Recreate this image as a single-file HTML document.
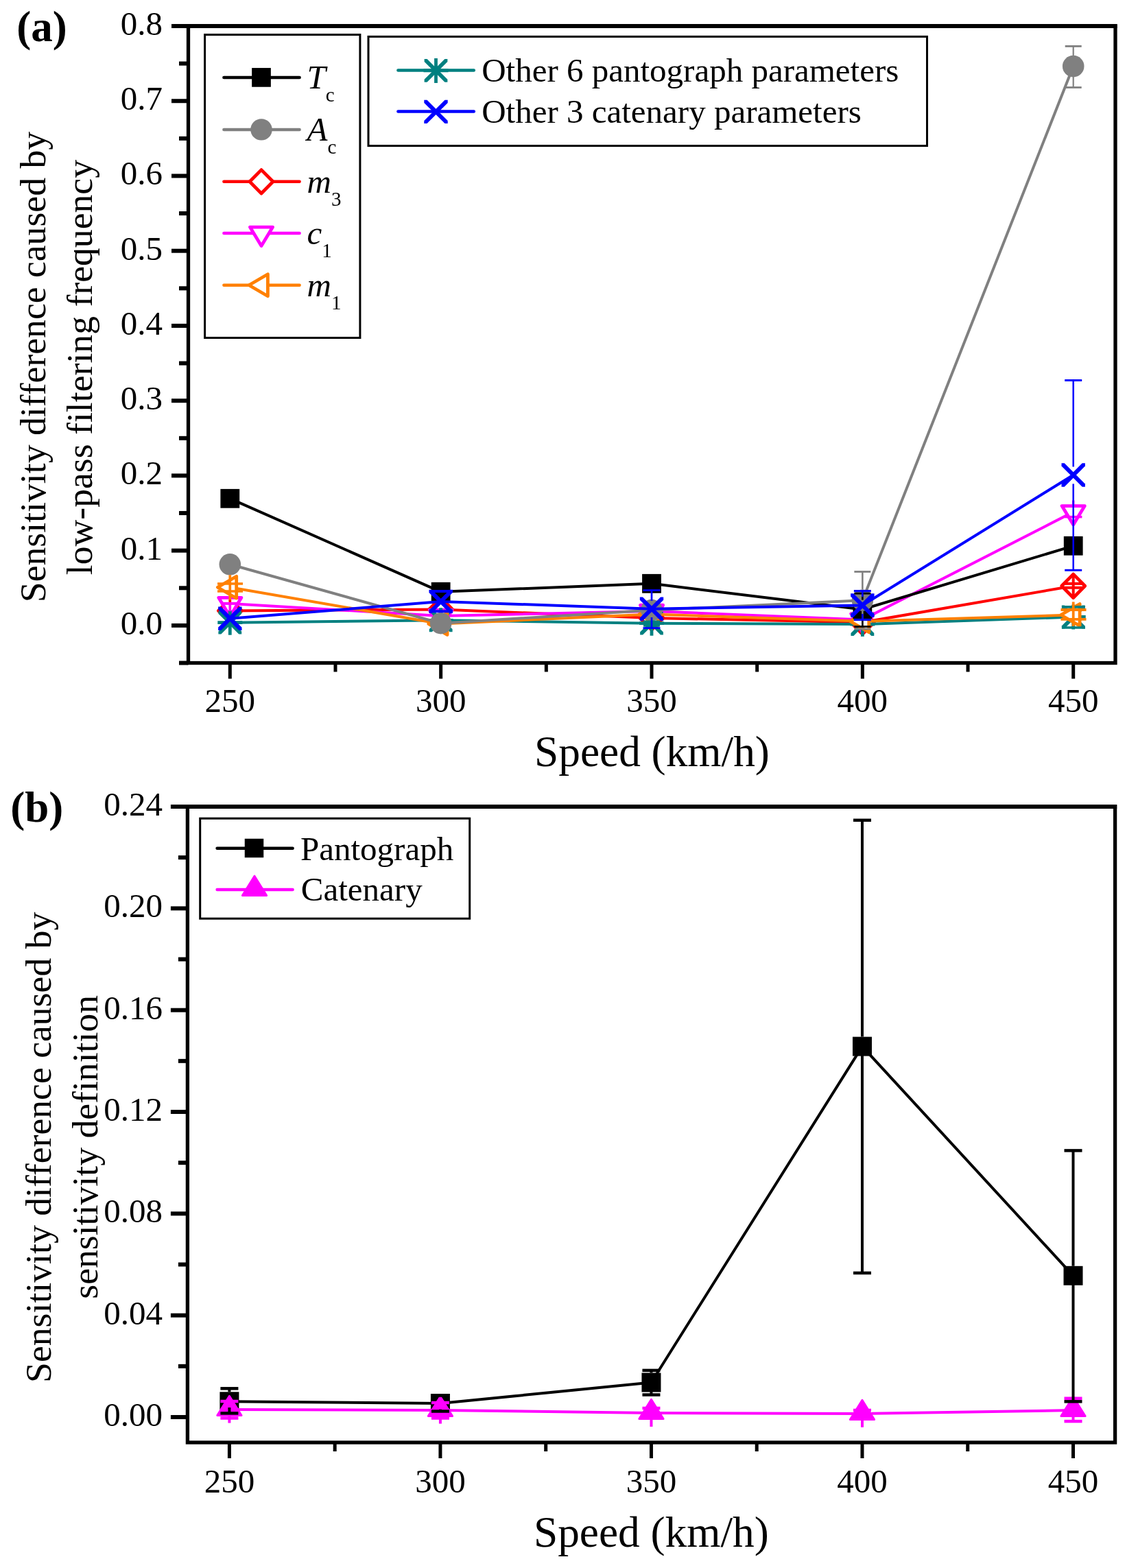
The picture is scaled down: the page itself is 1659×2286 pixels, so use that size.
<!DOCTYPE html>
<html><head><meta charset="utf-8"><title>Sensitivity difference figure</title>
<style>html,body{margin:0;padding:0;background:#fff;overflow:hidden;width:1659px;height:2286px;}svg{display:block;}</style></head>
<body>
<svg width="1659" height="2286" viewBox="0 0 1659 2286" font-family='"Liberation Serif", "Times New Roman", serif'>
<rect x="0" y="0" width="1659" height="2286" fill="#fff"/>
<rect x="274.5" y="38" width="1351.5" height="928.5" fill="none" stroke="#000" stroke-width="5.3"/>
<line x1="271.9" y1="38" x2="1628.6" y2="38" stroke="#000" stroke-width="6" stroke-linecap="butt"/>
<line x1="250" y1="911.9" x2="274.5" y2="911.9" stroke="#000" stroke-width="6" stroke-linecap="butt"/>
<line x1="250" y1="802.66" x2="274.5" y2="802.66" stroke="#000" stroke-width="6" stroke-linecap="butt"/>
<line x1="250" y1="693.42" x2="274.5" y2="693.42" stroke="#000" stroke-width="6" stroke-linecap="butt"/>
<line x1="250" y1="584.18" x2="274.5" y2="584.18" stroke="#000" stroke-width="6" stroke-linecap="butt"/>
<line x1="250" y1="474.94" x2="274.5" y2="474.94" stroke="#000" stroke-width="6" stroke-linecap="butt"/>
<line x1="250" y1="365.7" x2="274.5" y2="365.7" stroke="#000" stroke-width="6" stroke-linecap="butt"/>
<line x1="250" y1="256.46" x2="274.5" y2="256.46" stroke="#000" stroke-width="6" stroke-linecap="butt"/>
<line x1="250" y1="147.22" x2="274.5" y2="147.22" stroke="#000" stroke-width="6" stroke-linecap="butt"/>
<line x1="250" y1="37.98" x2="274.5" y2="37.98" stroke="#000" stroke-width="6" stroke-linecap="butt"/>
<line x1="261" y1="966.52" x2="274.5" y2="966.52" stroke="#000" stroke-width="6" stroke-linecap="butt"/>
<line x1="261" y1="857.28" x2="274.5" y2="857.28" stroke="#000" stroke-width="6" stroke-linecap="butt"/>
<line x1="261" y1="748.04" x2="274.5" y2="748.04" stroke="#000" stroke-width="6" stroke-linecap="butt"/>
<line x1="261" y1="638.8" x2="274.5" y2="638.8" stroke="#000" stroke-width="6" stroke-linecap="butt"/>
<line x1="261" y1="529.56" x2="274.5" y2="529.56" stroke="#000" stroke-width="6" stroke-linecap="butt"/>
<line x1="261" y1="420.32" x2="274.5" y2="420.32" stroke="#000" stroke-width="6" stroke-linecap="butt"/>
<line x1="261" y1="311.08" x2="274.5" y2="311.08" stroke="#000" stroke-width="6" stroke-linecap="butt"/>
<line x1="261" y1="201.84" x2="274.5" y2="201.84" stroke="#000" stroke-width="6" stroke-linecap="butt"/>
<line x1="261" y1="92.6" x2="274.5" y2="92.6" stroke="#000" stroke-width="6" stroke-linecap="butt"/>
<line x1="335.3" y1="966.5" x2="335.3" y2="989.5" stroke="#000" stroke-width="5" stroke-linecap="butt"/>
<line x1="642.65" y1="966.5" x2="642.65" y2="989.5" stroke="#000" stroke-width="5" stroke-linecap="butt"/>
<line x1="950" y1="966.5" x2="950" y2="989.5" stroke="#000" stroke-width="5" stroke-linecap="butt"/>
<line x1="1257.35" y1="966.5" x2="1257.35" y2="989.5" stroke="#000" stroke-width="5" stroke-linecap="butt"/>
<line x1="1564.7" y1="966.5" x2="1564.7" y2="989.5" stroke="#000" stroke-width="5" stroke-linecap="butt"/>
<line x1="488.98" y1="966.5" x2="488.98" y2="979.5" stroke="#000" stroke-width="5" stroke-linecap="butt"/>
<line x1="796.33" y1="966.5" x2="796.33" y2="979.5" stroke="#000" stroke-width="5" stroke-linecap="butt"/>
<line x1="1103.67" y1="966.5" x2="1103.67" y2="979.5" stroke="#000" stroke-width="5" stroke-linecap="butt"/>
<line x1="1411.03" y1="966.5" x2="1411.03" y2="979.5" stroke="#000" stroke-width="5" stroke-linecap="butt"/>
<text x="237" y="924.9" font-size="49" text-anchor="end" font-weight="normal" font-style="normal">0.0</text>
<text x="237" y="815.66" font-size="49" text-anchor="end" font-weight="normal" font-style="normal">0.1</text>
<text x="237" y="706.42" font-size="49" text-anchor="end" font-weight="normal" font-style="normal">0.2</text>
<text x="237" y="597.18" font-size="49" text-anchor="end" font-weight="normal" font-style="normal">0.3</text>
<text x="237" y="487.94" font-size="49" text-anchor="end" font-weight="normal" font-style="normal">0.4</text>
<text x="237" y="378.7" font-size="49" text-anchor="end" font-weight="normal" font-style="normal">0.5</text>
<text x="237" y="269.46" font-size="49" text-anchor="end" font-weight="normal" font-style="normal">0.6</text>
<text x="237" y="160.22" font-size="49" text-anchor="end" font-weight="normal" font-style="normal">0.7</text>
<text x="237" y="50.98" font-size="49" text-anchor="end" font-weight="normal" font-style="normal">0.8</text>
<text x="335.3" y="1037.6" font-size="49" text-anchor="middle" font-weight="normal" font-style="normal">250</text>
<text x="642.65" y="1037.6" font-size="49" text-anchor="middle" font-weight="normal" font-style="normal">300</text>
<text x="950" y="1037.6" font-size="49" text-anchor="middle" font-weight="normal" font-style="normal">350</text>
<text x="1257.35" y="1037.6" font-size="49" text-anchor="middle" font-weight="normal" font-style="normal">400</text>
<text x="1564.7" y="1037.6" font-size="49" text-anchor="middle" font-weight="normal" font-style="normal">450</text>
<polyline points="335.3,890.4 642.65,888.5 950,901 1257.35,907.3 1564.7,854.3" fill="none" stroke="#ff0000" stroke-width="4" stroke-linejoin="round"/>
<polygon points="335.3,873.2 352.3,890.4 335.3,907.6 318.3,890.4" fill="#fff" stroke="#ff0000" stroke-width="4.8" stroke-linejoin="round"/>
<polygon points="642.65,871.3 659.65,888.5 642.65,905.7 625.65,888.5" fill="#fff" stroke="#ff0000" stroke-width="4.8" stroke-linejoin="round"/>
<polygon points="950,883.8 967,901 950,918.2 933,901" fill="#fff" stroke="#ff0000" stroke-width="4.8" stroke-linejoin="round"/>
<polygon points="1257.35,890.1 1274.35,907.3 1257.35,924.5 1240.35,907.3" fill="#fff" stroke="#ff0000" stroke-width="4.8" stroke-linejoin="round"/>
<polygon points="1564.7,837.1 1581.7,854.3 1564.7,871.5 1547.7,854.3" fill="#fff" stroke="#ff0000" stroke-width="4.8" stroke-linejoin="round"/>
<polyline points="335.3,880.1 642.65,897.9 950,891 1257.35,903.5 1564.7,746.4" fill="none" stroke="#ff00ff" stroke-width="4" stroke-linejoin="round"/>
<polygon points="318.7,871.3 351.9,871.3 335.3,898.7" fill="#fff" stroke="#ff00ff" stroke-width="4.8" stroke-linejoin="round"/>
<polygon points="626.05,889.1 659.25,889.1 642.65,916.5" fill="#fff" stroke="#ff00ff" stroke-width="4.8" stroke-linejoin="round"/>
<polygon points="933.4,882.2 966.6,882.2 950,909.6" fill="#fff" stroke="#ff00ff" stroke-width="4.8" stroke-linejoin="round"/>
<polygon points="1240.75,894.7 1273.95,894.7 1257.35,922.1" fill="#fff" stroke="#ff00ff" stroke-width="4.8" stroke-linejoin="round"/>
<polygon points="1548.1,737.6 1581.3,737.6 1564.7,765" fill="#fff" stroke="#ff00ff" stroke-width="4.8" stroke-linejoin="round"/>
<polyline points="335.3,907.7 642.65,904.3 950,908.7 1257.35,910.1 1564.7,899.5" fill="none" stroke="#008080" stroke-width="4" stroke-linejoin="round"/>
<polygon points="318.4,890.8 322.4,890.8 352.2,920.6 352.2,924.6 348.2,924.6 318.4,894.8" fill="#008080"/>
<polygon points="352.2,890.8 348.2,890.8 318.4,920.6 318.4,924.6 322.4,924.6 352.2,894.8" fill="#008080"/>
<path d="M335.3,889.7L335.3,925.7M317.3,907.7L353.3,907.7" stroke="#008080" stroke-width="4.8" fill="none"/>
<polygon points="625.75,887.4 629.75,887.4 659.55,917.2 659.55,921.2 655.55,921.2 625.75,891.4" fill="#008080"/>
<polygon points="659.55,887.4 655.55,887.4 625.75,917.2 625.75,921.2 629.75,921.2 659.55,891.4" fill="#008080"/>
<path d="M642.65,886.3L642.65,922.3M624.65,904.3L660.65,904.3" stroke="#008080" stroke-width="4.8" fill="none"/>
<polygon points="933.1,891.8 937.1,891.8 966.9,921.6 966.9,925.6 962.9,925.6 933.1,895.8" fill="#008080"/>
<polygon points="966.9,891.8 962.9,891.8 933.1,921.6 933.1,925.6 937.1,925.6 966.9,895.8" fill="#008080"/>
<path d="M950,890.7L950,926.7M932,908.7L968,908.7" stroke="#008080" stroke-width="4.8" fill="none"/>
<polygon points="1240.45,893.2 1244.45,893.2 1274.25,923 1274.25,927 1270.25,927 1240.45,897.2" fill="#008080"/>
<polygon points="1274.25,893.2 1270.25,893.2 1240.45,923 1240.45,927 1244.45,927 1274.25,897.2" fill="#008080"/>
<path d="M1257.35,892.1L1257.35,928.1M1239.35,910.1L1275.35,910.1" stroke="#008080" stroke-width="4.8" fill="none"/>
<polygon points="1547.8,882.6 1551.8,882.6 1581.6,912.4 1581.6,916.4 1577.6,916.4 1547.8,886.6" fill="#008080"/>
<polygon points="1581.6,882.6 1577.6,882.6 1547.8,912.4 1547.8,916.4 1551.8,916.4 1581.6,886.6" fill="#008080"/>
<path d="M1564.7,881.5L1564.7,917.5M1546.7,899.5L1582.7,899.5" stroke="#008080" stroke-width="4.8" fill="none"/>
<polyline points="335.3,856.2 642.65,909.5 950,895.6 1257.35,905.8 1564.7,896.5" fill="none" stroke="#ff8000" stroke-width="4" stroke-linejoin="round"/>
<polygon points="344.7,840.2 344.7,872.2 317.3,856.2" fill="#fff" stroke="#ff8000" stroke-width="4.8" stroke-linejoin="round"/>
<polygon points="652.05,893.5 652.05,925.5 624.65,909.5" fill="#fff" stroke="#ff8000" stroke-width="4.8" stroke-linejoin="round"/>
<polygon points="959.4,879.6 959.4,911.6 932,895.6" fill="#fff" stroke="#ff8000" stroke-width="4.8" stroke-linejoin="round"/>
<polygon points="1266.75,889.8 1266.75,921.8 1239.35,905.8" fill="#fff" stroke="#ff8000" stroke-width="4.8" stroke-linejoin="round"/>
<polygon points="1574.1,880.5 1574.1,912.5 1546.7,896.5" fill="#fff" stroke="#ff8000" stroke-width="4.8" stroke-linejoin="round"/>
<polyline points="335.3,726.8 642.65,862.8 950,850.8 1257.35,888.5 1564.7,795.8" fill="none" stroke="#000000" stroke-width="4" stroke-linejoin="round"/>
<rect x="321.4" y="712.9" width="27.8" height="27.8" fill="#000" stroke="none" stroke-width="0"/>
<rect x="628.75" y="848.9" width="27.8" height="27.8" fill="#000" stroke="none" stroke-width="0"/>
<rect x="936.1" y="836.9" width="27.8" height="27.8" fill="#000" stroke="none" stroke-width="0"/>
<rect x="1243.45" y="874.6" width="27.8" height="27.8" fill="#000" stroke="none" stroke-width="0"/>
<rect x="1550.8" y="781.9" width="27.8" height="27.8" fill="#000" stroke="none" stroke-width="0"/>
<polyline points="335.3,822.8 642.65,908.7 950,889.5 1257.35,875.2 1564.7,96.6" fill="none" stroke="#808080" stroke-width="4" stroke-linejoin="round"/>
<circle cx="335.3" cy="822.8" r="15.8" fill="#808080"/>
<circle cx="642.65" cy="908.7" r="15.8" fill="#808080"/>
<circle cx="950" cy="889.5" r="15.8" fill="#808080"/>
<circle cx="1257.35" cy="875.2" r="15.8" fill="#808080"/>
<circle cx="1564.7" cy="96.6" r="15.8" fill="#808080"/>
<polyline points="335.3,901.8 642.65,876.9 950,887.7 1257.35,882.5 1564.7,692.5" fill="none" stroke="#0000ff" stroke-width="4" stroke-linejoin="round"/>
<polygon points="318.1,884.6 322.3,884.6 352.5,914.8 352.5,919 348.3,919 318.1,888.8" fill="#0000ff"/>
<polygon points="352.5,884.6 348.3,884.6 318.1,914.8 318.1,919 322.3,919 352.5,888.8" fill="#0000ff"/>
<polygon points="625.45,859.7 629.65,859.7 659.85,889.9 659.85,894.1 655.65,894.1 625.45,863.9" fill="#0000ff"/>
<polygon points="659.85,859.7 655.65,859.7 625.45,889.9 625.45,894.1 629.65,894.1 659.85,863.9" fill="#0000ff"/>
<polygon points="932.8,870.5 937,870.5 967.2,900.7 967.2,904.9 963,904.9 932.8,874.7" fill="#0000ff"/>
<polygon points="967.2,870.5 963,870.5 932.8,900.7 932.8,904.9 937,904.9 967.2,874.7" fill="#0000ff"/>
<polygon points="1240.15,865.3 1244.35,865.3 1274.55,895.5 1274.55,899.7 1270.35,899.7 1240.15,869.5" fill="#0000ff"/>
<polygon points="1274.55,865.3 1270.35,865.3 1240.15,895.5 1240.15,899.7 1244.35,899.7 1274.55,869.5" fill="#0000ff"/>
<polygon points="1547.5,675.3 1551.7,675.3 1581.9,705.5 1581.9,709.7 1577.7,709.7 1547.5,679.5" fill="#0000ff"/>
<polygon points="1581.9,675.3 1577.7,675.3 1547.5,705.5 1547.5,709.7 1551.7,709.7 1581.9,679.5" fill="#0000ff"/>
<line x1="335.3" y1="838.2" x2="335.3" y2="876" stroke="#ff8000" stroke-width="3.7" stroke-linecap="butt"/>
<line x1="317" y1="851" x2="354" y2="851" stroke="#ff8000" stroke-width="3.7" stroke-linecap="butt"/>
<line x1="317" y1="862" x2="354" y2="862" stroke="#ff8000" stroke-width="3.7" stroke-linecap="butt"/>
<line x1="335.3" y1="874.5" x2="335.3" y2="878" stroke="#ff0000" stroke-width="3.7" stroke-linecap="butt"/>
<line x1="322" y1="879.9" x2="348" y2="879.9" stroke="#ff00ff" stroke-width="4" stroke-linecap="butt"/>
<line x1="335.3" y1="880" x2="335.3" y2="891.3" stroke="#ff00ff" stroke-width="3.7" stroke-linecap="butt"/>
<line x1="626.5" y1="862" x2="659.5" y2="862" stroke="#0000ff" stroke-width="4" stroke-linecap="butt"/>
<line x1="626.5" y1="891.3" x2="659.5" y2="891.3" stroke="#0000ff" stroke-width="4" stroke-linecap="butt"/>
<rect x="938" y="904.5" width="24" height="9.2" fill="#008080" stroke="none" stroke-width="0"/>
<line x1="950" y1="860.6" x2="950" y2="876" stroke="#0000ff" stroke-width="2.7" stroke-linecap="butt"/>
<line x1="950" y1="900" x2="950" y2="915.6" stroke="#0000ff" stroke-width="2.7" stroke-linecap="butt"/>
<line x1="937.5" y1="860.6" x2="962.5" y2="860.6" stroke="#0000ff" stroke-width="2.8" stroke-linecap="butt"/>
<line x1="937.5" y1="915.6" x2="962.5" y2="915.6" stroke="#0000ff" stroke-width="2.8" stroke-linecap="butt"/>
<line x1="1257.35" y1="833.5" x2="1257.35" y2="859.6" stroke="#808080" stroke-width="2.6" stroke-linecap="butt"/>
<line x1="1257.35" y1="890.8" x2="1257.35" y2="917" stroke="#808080" stroke-width="2.6" stroke-linecap="butt"/>
<line x1="1245.35" y1="833.5" x2="1269.35" y2="833.5" stroke="#808080" stroke-width="2.8" stroke-linecap="butt"/>
<line x1="1245.35" y1="917" x2="1269.35" y2="917" stroke="#808080" stroke-width="2.8" stroke-linecap="butt"/>
<line x1="1257.35" y1="865.2" x2="1257.35" y2="874.6" stroke="#000000" stroke-width="2.6" stroke-linecap="butt"/>
<line x1="1257.35" y1="902.4" x2="1257.35" y2="913.5" stroke="#000000" stroke-width="2.6" stroke-linecap="butt"/>
<line x1="1245.35" y1="865.2" x2="1269.35" y2="865.2" stroke="#000000" stroke-width="2.8" stroke-linecap="butt"/>
<line x1="1245.35" y1="913.5" x2="1269.35" y2="913.5" stroke="#000000" stroke-width="2.8" stroke-linecap="butt"/>
<line x1="1257.35" y1="861.6" x2="1257.35" y2="870" stroke="#0000ff" stroke-width="2.7" stroke-linecap="butt"/>
<line x1="1257.35" y1="895" x2="1257.35" y2="903.5" stroke="#0000ff" stroke-width="2.7" stroke-linecap="butt"/>
<line x1="1244.85" y1="861.6" x2="1269.85" y2="861.6" stroke="#0000ff" stroke-width="3.2" stroke-linecap="butt"/>
<line x1="1244.85" y1="903.5" x2="1269.85" y2="903.5" stroke="#0000ff" stroke-width="3.2" stroke-linecap="butt"/>
<line x1="1564.7" y1="67.4" x2="1564.7" y2="127.5" stroke="#808080" stroke-width="2.2" stroke-linecap="butt"/>
<line x1="1552.7" y1="67.4" x2="1576.7" y2="67.4" stroke="#808080" stroke-width="2.8" stroke-linecap="butt"/>
<line x1="1552.7" y1="127.5" x2="1576.7" y2="127.5" stroke="#808080" stroke-width="2.8" stroke-linecap="butt"/>
<line x1="1564.7" y1="729.5" x2="1564.7" y2="740" stroke="#ff00ff" stroke-width="3.5" stroke-linecap="butt"/>
<line x1="1552.4" y1="753.6" x2="1577.4" y2="753.6" stroke="#ff00ff" stroke-width="3.5" stroke-linecap="butt"/>
<line x1="1564.7" y1="838" x2="1564.7" y2="870" stroke="#ff0000" stroke-width="4" stroke-linecap="butt"/>
<line x1="1550" y1="850.9" x2="1580" y2="850.9" stroke="#ff0000" stroke-width="4" stroke-linecap="butt"/>
<line x1="1550" y1="856.8" x2="1580" y2="856.8" stroke="#ff0000" stroke-width="4" stroke-linecap="butt"/>
<line x1="1548" y1="884.8" x2="1582" y2="884.8" stroke="#008080" stroke-width="3.7" stroke-linecap="butt"/>
<line x1="1548" y1="915" x2="1582" y2="915" stroke="#008080" stroke-width="3.7" stroke-linecap="butt"/>
<line x1="1564.7" y1="877.5" x2="1564.7" y2="913" stroke="#ff8000" stroke-width="3.8" stroke-linecap="butt"/>
<line x1="1546.5" y1="889" x2="1583.5" y2="889" stroke="#ff8000" stroke-width="3.8" stroke-linecap="butt"/>
<line x1="1546.5" y1="902.8" x2="1583.5" y2="902.8" stroke="#ff8000" stroke-width="3.8" stroke-linecap="butt"/>
<line x1="1564.7" y1="554.5" x2="1564.7" y2="680.5" stroke="#0000ff" stroke-width="2.5" stroke-linecap="butt"/>
<line x1="1564.7" y1="705.4" x2="1564.7" y2="831.3" stroke="#0000ff" stroke-width="2.5" stroke-linecap="butt"/>
<line x1="1552.2" y1="554.5" x2="1577.2" y2="554.5" stroke="#0000ff" stroke-width="3" stroke-linecap="butt"/>
<line x1="1552.2" y1="831.3" x2="1577.2" y2="831.3" stroke="#0000ff" stroke-width="3" stroke-linecap="butt"/>
<rect x="298.6" y="50.6" width="226.3" height="441.9" fill="#fff" stroke="#000" stroke-width="3"/>
<line x1="326.4" y1="112.9" x2="436.6" y2="112.9" stroke="#000000" stroke-width="4.5" stroke-linecap="round"/>
<line x1="326.4" y1="188.9" x2="436.6" y2="188.9" stroke="#808080" stroke-width="4.5" stroke-linecap="round"/>
<line x1="326.4" y1="264.8" x2="436.6" y2="264.8" stroke="#ff0000" stroke-width="4.5" stroke-linecap="round"/>
<line x1="326.4" y1="339.9" x2="436.6" y2="339.9" stroke="#ff00ff" stroke-width="4.5" stroke-linecap="round"/>
<line x1="326.4" y1="415.8" x2="436.6" y2="415.8" stroke="#ff8000" stroke-width="4.5" stroke-linecap="round"/>
<rect x="367.15" y="99.05" width="27.7" height="27.7" fill="#000" stroke="none" stroke-width="0"/>
<circle cx="381" cy="188.9" r="15.7" fill="#808080"/>
<polygon points="381,247.6 398,264.8 381,282 364,264.8" fill="#fff" stroke="#ff0000" stroke-width="4.8" stroke-linejoin="round"/>
<polygon points="364.4,331.1 397.6,331.1 381,358.5" fill="#fff" stroke="#ff00ff" stroke-width="4.8" stroke-linejoin="round"/>
<polygon points="390.4,399.8 390.4,431.8 363,415.8" fill="#fff" stroke="#ff8000" stroke-width="4.8" stroke-linejoin="round"/>
<text x="447.5" y="128.9" font-size="49"><tspan font-style="italic">T</tspan><tspan font-size="29" dy="19">c</tspan></text>
<text x="447.5" y="204.9" font-size="49"><tspan font-style="italic">A</tspan><tspan font-size="29" dy="19">c</tspan></text>
<text x="447.5" y="280.8" font-size="49"><tspan font-style="italic">m</tspan><tspan font-size="29" dy="19">3</tspan></text>
<text x="447.5" y="355.9" font-size="49"><tspan font-style="italic">c</tspan><tspan font-size="29" dy="19">1</tspan></text>
<text x="447.5" y="431.8" font-size="49"><tspan font-style="italic">m</tspan><tspan font-size="29" dy="19">1</tspan></text>
<rect x="537" y="53.4" width="814.5" height="159.2" fill="#fff" stroke="#000" stroke-width="3"/>
<line x1="580.4" y1="102.5" x2="690.8" y2="102.5" stroke="#008080" stroke-width="4.5" stroke-linecap="round"/>
<polygon points="618.6,86 622.6,86 652.4,115.8 652.4,119.8 648.4,119.8 618.6,90" fill="#008080"/>
<polygon points="652.4,86 648.4,86 618.6,115.8 618.6,119.8 622.6,119.8 652.4,90" fill="#008080"/>
<path d="M635.5,84.9L635.5,120.9M617.5,102.9L653.5,102.9" stroke="#008080" stroke-width="4.8" fill="none"/>
<line x1="580.4" y1="162.5" x2="690.8" y2="162.5" stroke="#0000ff" stroke-width="4.5" stroke-linecap="round"/>
<polygon points="618.3,145.7 622.5,145.7 652.7,175.9 652.7,180.1 648.5,180.1 618.3,149.9" fill="#0000ff"/>
<polygon points="652.7,145.7 648.5,145.7 618.3,175.9 618.3,180.1 622.5,180.1 652.7,149.9" fill="#0000ff"/>
<text x="702.2" y="119.1" font-size="49" text-anchor="start" font-weight="normal" font-style="normal">Other 6 pantograph parameters</text>
<text x="702.2" y="179.1" font-size="49" text-anchor="start" font-weight="normal" font-style="normal">Other 3 catenary parameters</text>
<text x="950.5" y="1117" font-size="63.3" text-anchor="middle" font-weight="normal" font-style="normal">Speed (km/h)</text>
<text transform="translate(65.9,535) rotate(-90)" font-size="53.7" text-anchor="middle">Sensitivity difference caused by</text>
<text transform="translate(134,535.6) rotate(-90)" font-size="53.7" text-anchor="middle">low-pass filtering frequency</text>
<text x="24.2" y="60" font-size="63" text-anchor="start" font-weight="bold" font-style="normal">(a)</text>
<rect x="273.4" y="1176" width="1352.2" height="927" fill="none" stroke="#000" stroke-width="5.3"/>
<line x1="270.8" y1="1176" x2="1628.2" y2="1176" stroke="#000" stroke-width="6" stroke-linecap="butt"/>
<line x1="248.9" y1="2066" x2="273.4" y2="2066" stroke="#000" stroke-width="6" stroke-linecap="butt"/>
<line x1="248.9" y1="1917.67" x2="273.4" y2="1917.67" stroke="#000" stroke-width="6" stroke-linecap="butt"/>
<line x1="248.9" y1="1769.34" x2="273.4" y2="1769.34" stroke="#000" stroke-width="6" stroke-linecap="butt"/>
<line x1="248.9" y1="1621" x2="273.4" y2="1621" stroke="#000" stroke-width="6" stroke-linecap="butt"/>
<line x1="248.9" y1="1472.67" x2="273.4" y2="1472.67" stroke="#000" stroke-width="6" stroke-linecap="butt"/>
<line x1="248.9" y1="1324.34" x2="273.4" y2="1324.34" stroke="#000" stroke-width="6" stroke-linecap="butt"/>
<line x1="248.9" y1="1176.01" x2="273.4" y2="1176.01" stroke="#000" stroke-width="6" stroke-linecap="butt"/>
<line x1="259.9" y1="1991.83" x2="273.4" y2="1991.83" stroke="#000" stroke-width="6" stroke-linecap="butt"/>
<line x1="259.9" y1="1843.5" x2="273.4" y2="1843.5" stroke="#000" stroke-width="6" stroke-linecap="butt"/>
<line x1="259.9" y1="1695.17" x2="273.4" y2="1695.17" stroke="#000" stroke-width="6" stroke-linecap="butt"/>
<line x1="259.9" y1="1546.84" x2="273.4" y2="1546.84" stroke="#000" stroke-width="6" stroke-linecap="butt"/>
<line x1="259.9" y1="1398.51" x2="273.4" y2="1398.51" stroke="#000" stroke-width="6" stroke-linecap="butt"/>
<line x1="259.9" y1="1250.17" x2="273.4" y2="1250.17" stroke="#000" stroke-width="6" stroke-linecap="butt"/>
<line x1="334.4" y1="2103" x2="334.4" y2="2126" stroke="#000" stroke-width="5" stroke-linecap="butt"/>
<line x1="641.92" y1="2103" x2="641.92" y2="2126" stroke="#000" stroke-width="5" stroke-linecap="butt"/>
<line x1="949.45" y1="2103" x2="949.45" y2="2126" stroke="#000" stroke-width="5" stroke-linecap="butt"/>
<line x1="1256.97" y1="2103" x2="1256.97" y2="2126" stroke="#000" stroke-width="5" stroke-linecap="butt"/>
<line x1="1564.5" y1="2103" x2="1564.5" y2="2126" stroke="#000" stroke-width="5" stroke-linecap="butt"/>
<line x1="488.16" y1="2103" x2="488.16" y2="2116" stroke="#000" stroke-width="5" stroke-linecap="butt"/>
<line x1="795.69" y1="2103" x2="795.69" y2="2116" stroke="#000" stroke-width="5" stroke-linecap="butt"/>
<line x1="1103.21" y1="2103" x2="1103.21" y2="2116" stroke="#000" stroke-width="5" stroke-linecap="butt"/>
<line x1="1410.74" y1="2103" x2="1410.74" y2="2116" stroke="#000" stroke-width="5" stroke-linecap="butt"/>
<text x="237" y="2079" font-size="49" text-anchor="end" font-weight="normal" font-style="normal">0.00</text>
<text x="237" y="1930.67" font-size="49" text-anchor="end" font-weight="normal" font-style="normal">0.04</text>
<text x="237" y="1782.34" font-size="49" text-anchor="end" font-weight="normal" font-style="normal">0.08</text>
<text x="237" y="1634" font-size="49" text-anchor="end" font-weight="normal" font-style="normal">0.12</text>
<text x="237" y="1485.67" font-size="49" text-anchor="end" font-weight="normal" font-style="normal">0.16</text>
<text x="237" y="1337.34" font-size="49" text-anchor="end" font-weight="normal" font-style="normal">0.20</text>
<text x="237" y="1189.01" font-size="49" text-anchor="end" font-weight="normal" font-style="normal">0.24</text>
<text x="334.4" y="2175.8" font-size="49" text-anchor="middle" font-weight="normal" font-style="normal">250</text>
<text x="641.92" y="2175.8" font-size="49" text-anchor="middle" font-weight="normal" font-style="normal">300</text>
<text x="949.45" y="2175.8" font-size="49" text-anchor="middle" font-weight="normal" font-style="normal">350</text>
<text x="1256.97" y="2175.8" font-size="49" text-anchor="middle" font-weight="normal" font-style="normal">400</text>
<text x="1564.5" y="2175.8" font-size="49" text-anchor="middle" font-weight="normal" font-style="normal">450</text>
<polyline points="334.4,2043.3 641.92,2046 949.45,2015.5 1256.97,1525.6 1564.5,1859.8" fill="none" stroke="#000" stroke-width="4" stroke-linejoin="round"/>
<rect x="320.4" y="2029.3" width="28" height="28" fill="#000" stroke="none" stroke-width="0"/>
<rect x="627.92" y="2032" width="28" height="28" fill="#000" stroke="none" stroke-width="0"/>
<rect x="935.45" y="2001.5" width="28" height="28" fill="#000" stroke="none" stroke-width="0"/>
<rect x="1242.97" y="1511.6" width="28" height="28" fill="#000" stroke="none" stroke-width="0"/>
<rect x="1550.5" y="1845.8" width="28" height="28" fill="#000" stroke="none" stroke-width="0"/>
<polyline points="334.4,2055 641.92,2056 949.45,2060 1256.97,2061 1564.5,2056" fill="none" stroke="#ff00ff" stroke-width="4" stroke-linejoin="round"/>
<polygon points="316.8,2063.6 352,2063.6 334.4,2035.3" fill="#ff00ff" stroke="#ff00ff" stroke-width="3" stroke-linejoin="round"/>
<polygon points="624.32,2064.6 659.52,2064.6 641.92,2036.3" fill="#ff00ff" stroke="#ff00ff" stroke-width="3" stroke-linejoin="round"/>
<polygon points="931.85,2068.6 967.05,2068.6 949.45,2040.3" fill="#ff00ff" stroke="#ff00ff" stroke-width="3" stroke-linejoin="round"/>
<polygon points="1239.38,2069.6 1274.57,2069.6 1256.97,2041.3" fill="#ff00ff" stroke="#ff00ff" stroke-width="3" stroke-linejoin="round"/>
<polygon points="1546.9,2064.6 1582.1,2064.6 1564.5,2036.3" fill="#ff00ff" stroke="#ff00ff" stroke-width="3" stroke-linejoin="round"/>
<line x1="334.4" y1="2043" x2="334.4" y2="2074.6" stroke="#ff00ff" stroke-width="4" stroke-linecap="butt"/>
<line x1="321.4" y1="2043" x2="347.4" y2="2043" stroke="#ff00ff" stroke-width="4.5" stroke-linecap="butt"/>
<line x1="321.4" y1="2067.5" x2="347.4" y2="2067.5" stroke="#ff00ff" stroke-width="4.5" stroke-linecap="butt"/>
<line x1="641.92" y1="2045" x2="641.92" y2="2075.6" stroke="#ff00ff" stroke-width="4" stroke-linecap="butt"/>
<line x1="628.92" y1="2045" x2="654.92" y2="2045" stroke="#ff00ff" stroke-width="4.5" stroke-linecap="butt"/>
<line x1="628.92" y1="2067.5" x2="654.92" y2="2067.5" stroke="#ff00ff" stroke-width="4.5" stroke-linecap="butt"/>
<line x1="949.45" y1="2053" x2="949.45" y2="2080" stroke="#ff00ff" stroke-width="4" stroke-linecap="butt"/>
<line x1="936.45" y1="2053" x2="962.45" y2="2053" stroke="#ff00ff" stroke-width="4.5" stroke-linecap="butt"/>
<line x1="936.45" y1="2067" x2="962.45" y2="2067" stroke="#ff00ff" stroke-width="4.5" stroke-linecap="butt"/>
<line x1="1256.97" y1="2056" x2="1256.97" y2="2080.8" stroke="#ff00ff" stroke-width="4" stroke-linecap="butt"/>
<line x1="1243.97" y1="2056" x2="1269.97" y2="2056" stroke="#ff00ff" stroke-width="4.5" stroke-linecap="butt"/>
<line x1="1243.97" y1="2066" x2="1269.97" y2="2066" stroke="#ff00ff" stroke-width="4.5" stroke-linecap="butt"/>
<line x1="1564.5" y1="2038.7" x2="1564.5" y2="2072.1" stroke="#ff00ff" stroke-width="4" stroke-linecap="butt"/>
<line x1="1551.5" y1="2038.7" x2="1577.5" y2="2038.7" stroke="#ff00ff" stroke-width="4.5" stroke-linecap="butt"/>
<line x1="1551.5" y1="2072.1" x2="1577.5" y2="2072.1" stroke="#ff00ff" stroke-width="4.5" stroke-linecap="butt"/>
<line x1="334.4" y1="2024.3" x2="334.4" y2="2029.3" stroke="#000" stroke-width="4" stroke-linecap="butt"/>
<line x1="334.4" y1="2052" x2="334.4" y2="2060.4" stroke="#000" stroke-width="4" stroke-linecap="butt"/>
<line x1="321.4" y1="2024.3" x2="347.4" y2="2024.3" stroke="#000" stroke-width="4.5" stroke-linecap="butt"/>
<line x1="321.4" y1="2060.4" x2="347.4" y2="2060.4" stroke="#000" stroke-width="4.5" stroke-linecap="butt"/>
<line x1="641.92" y1="2034.5" x2="641.92" y2="2034.5" stroke="#000" stroke-width="4" stroke-linecap="butt"/>
<line x1="641.92" y1="2054.7" x2="641.92" y2="2057.5" stroke="#000" stroke-width="4" stroke-linecap="butt"/>
<line x1="628.92" y1="2034.5" x2="654.92" y2="2034.5" stroke="#000" stroke-width="4.5" stroke-linecap="butt"/>
<line x1="628.92" y1="2057.5" x2="654.92" y2="2057.5" stroke="#000" stroke-width="4.5" stroke-linecap="butt"/>
<line x1="949.45" y1="1997.9" x2="949.45" y2="2001.5" stroke="#000" stroke-width="4" stroke-linecap="butt"/>
<line x1="949.45" y1="2024.2" x2="949.45" y2="2033.5" stroke="#000" stroke-width="4" stroke-linecap="butt"/>
<line x1="936.45" y1="1997.9" x2="962.45" y2="1997.9" stroke="#000" stroke-width="4.5" stroke-linecap="butt"/>
<line x1="936.45" y1="2033.5" x2="962.45" y2="2033.5" stroke="#000" stroke-width="4.5" stroke-linecap="butt"/>
<line x1="1256.97" y1="1195.8" x2="1256.97" y2="1511.6" stroke="#000" stroke-width="4" stroke-linecap="butt"/>
<line x1="1256.97" y1="1534.3" x2="1256.97" y2="1855.9" stroke="#000" stroke-width="4" stroke-linecap="butt"/>
<line x1="1243.97" y1="1195.8" x2="1269.97" y2="1195.8" stroke="#000" stroke-width="4.5" stroke-linecap="butt"/>
<line x1="1243.97" y1="1855.9" x2="1269.97" y2="1855.9" stroke="#000" stroke-width="4.5" stroke-linecap="butt"/>
<line x1="1564.5" y1="1677.4" x2="1564.5" y2="1845.8" stroke="#000" stroke-width="4" stroke-linecap="butt"/>
<line x1="1564.5" y1="1868.5" x2="1564.5" y2="2043.3" stroke="#000" stroke-width="4" stroke-linecap="butt"/>
<line x1="1551.5" y1="1677.4" x2="1577.5" y2="1677.4" stroke="#000" stroke-width="4.5" stroke-linecap="butt"/>
<line x1="1551.5" y1="2043.3" x2="1577.5" y2="2043.3" stroke="#000" stroke-width="4.5" stroke-linecap="butt"/>
<rect x="291.7" y="1193.2" width="393" height="146" fill="#fff" stroke="#000" stroke-width="3"/>
<line x1="316.6" y1="1236.7" x2="426.6" y2="1236.7" stroke="#000" stroke-width="4.5" stroke-linecap="round"/>
<rect x="356.75" y="1222.75" width="27.5" height="27.5" fill="#000" stroke="none" stroke-width="0"/>
<line x1="316.6" y1="1296.9" x2="426.6" y2="1296.9" stroke="#ff00ff" stroke-width="4.5" stroke-linecap="round"/>
<polygon points="353.4,1305.5 388.6,1305.5 371,1277.2" fill="#ff00ff" stroke="#ff00ff" stroke-width="3" stroke-linejoin="round"/>
<text x="438" y="1253.5" font-size="49" text-anchor="start" font-weight="normal" font-style="normal">Pantograph</text>
<text x="438.8" y="1313.2" font-size="49" text-anchor="start" font-weight="normal" font-style="normal">Catenary</text>
<text x="949.4" y="2255" font-size="63.3" text-anchor="middle" font-weight="normal" font-style="normal">Speed (km/h)</text>
<text transform="translate(74,1672.8) rotate(-90)" font-size="53.7" text-anchor="middle">Sensitivity difference caused by</text>
<text transform="translate(142,1672.3) rotate(-90)" font-size="53.7" text-anchor="middle">sensitivity definition</text>
<text x="15.2" y="1198" font-size="63" text-anchor="start" font-weight="bold" font-style="normal">(b)</text>
</svg>
</body></html>
